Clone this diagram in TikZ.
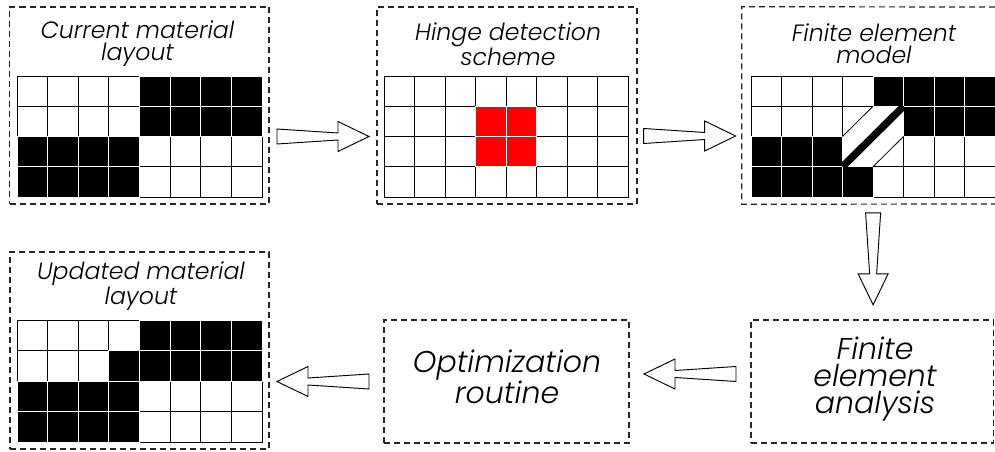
\documentclass[tikz,border=0pt]{standalone}
\usepackage{fontspec}
\newfontfamily\gothic{Poppins}[ItalicFont={Poppins Light Italic}]
\usetikzlibrary{calc,fit}
\tikzset{
  panel/.style={draw=black!85, line width=0.9pt, dash pattern=on 4.5pt off 3pt, inner sep=0pt},
  gridline/.style={draw=black, line width=0.6pt, fill=white},
  cellsep/.style={draw=white, line width=0.6pt},
  title/.style={font=\gothic\itshape\fontsize{17.7}{16.5}\selectfont, align=center, inner sep=0pt},
  bigtext/.style={font=\gothic\itshape\fontsize{22.5}{20.5}\selectfont, align=center, inner sep=0pt},
  arrowline/.style={draw=black, line width=0.7pt, fill=white, line join=miter},
  hollowarrow/.pic={\draw[arrowline] (-46,-7.5) -- (15,-3.5) -- (15,-15) -- (46,0) -- (15,15) -- (15,3.5) -- (-46,7.5) -- cycle;}
}
\newcommand\cellgrid[5]{%
  \foreach \c in {0,...,7}{\foreach \r in {0,...,3}{\draw[gridline] ({#1+\c*#3},{#2+\r*#4}) rectangle ++(#3,#4);}}
  \foreach \c/\r/\col in {#5}{\fill[\col] ({#1+\c*#3},{#2+\r*#4}) rectangle ++(#3,#4);
     \draw[cellsep] ({#1+\c*#3},{#2+\r*#4}) rectangle ++(#3,#4);}
}
\begin{document}
\begin{tikzpicture}[x=0.75pt,y=-0.75pt]
\useasboundingbox (0,0) rectangle (995,452);
% panels
\node[panel, fit={(9.5,7)(269,204)}] (p1) {};
\node[panel, fit={(377,7)(637,204)}] (p2) {};
\node[inner sep=0pt, fit={(742,7)(1006,204)}] (p3) {};
\draw[panel] (995,7) -- (p3.north west) -- (p3.south west) -- (995,204);
\node[panel, fit={(10,252)(269,449)}] (p4) {};
\node[panel, fit={(384,320)(629,443)}] (opt) {};
\node[panel, fit={(751,320)(993.5,443)}] (fea) {};
% titles
\node[title] (t1) at (137.5,44) {Current material\\layout};
\node[title] (t2) at (508,44) {Hinge detection\\scheme};
\node[title] (t3) at (874,44) {Finite element\\model};
\node[title] (t4) at (141,286) {Updated material\\layout};
\node[bigtext] (topt) at (507,377) {Optimization\\routine};
\node[bigtext] (tfea) at (875,379) {Finite\\element\\analysis};
% grids
\cellgrid{17}{76}{30.625}{30.25}{4/0/black,5/0/black,6/0/black,7/0/black,4/1/black,5/1/black,6/1/black,7/1/black,0/2/black,1/2/black,2/2/black,3/2/black,0/3/black,1/3/black,2/3/black,3/3/black}
\cellgrid{384}{76}{30.5}{30.25}{3/1/red,4/1/red,3/2/red,4/2/red}
\cellgrid{751}{76}{30.5}{30.25}{4/0/black,5/0/black,6/0/black,7/0/black,5/1/black,6/1/black,7/1/black,0/2/black,1/2/black,2/2/black,0/3/black,1/3/black,2/3/black,3/3/black}
\fill[white] (843.3,107) rectangle (902.7,166);
\draw[line width=0.6pt] (842.5,136.5) -- (873,106.25);
\draw[line width=0.6pt] (873,166.75) -- (903.5,136.5);
\draw[line width=5.5pt] (842.5,166.75) -- (903.5,106.25);
\cellgrid{17}{320}{30.625}{30.5}{4/0/black,5/0/black,6/0/black,7/0/black,3/1/black,4/1/black,5/1/black,6/1/black,7/1/black,0/2/black,1/2/black,2/2/black,3/2/black,0/3/black,1/3/black,2/3/black,3/3/black}
% arrows
\pic at ($(p1.east)!0.5!(p2.west)+(0,31)$) {hollowarrow};
\pic at ($(p2.east)!0.5!(p3.west)+(0,30.5)$) {hollowarrow};
\pic[rotate=-90] at ($(p3.south)!0.5!(fea.north)+(0,-3)$) {hollowarrow};
\pic[rotate=180] at ($(opt.east)!0.5!(fea.west)+(0,-7.5)$) {hollowarrow};
\pic[rotate=180] at ($(p4.east |- opt.west)!0.5!(opt.west)+(-3.5,0)$) {hollowarrow};
\end{tikzpicture}
\end{document}
